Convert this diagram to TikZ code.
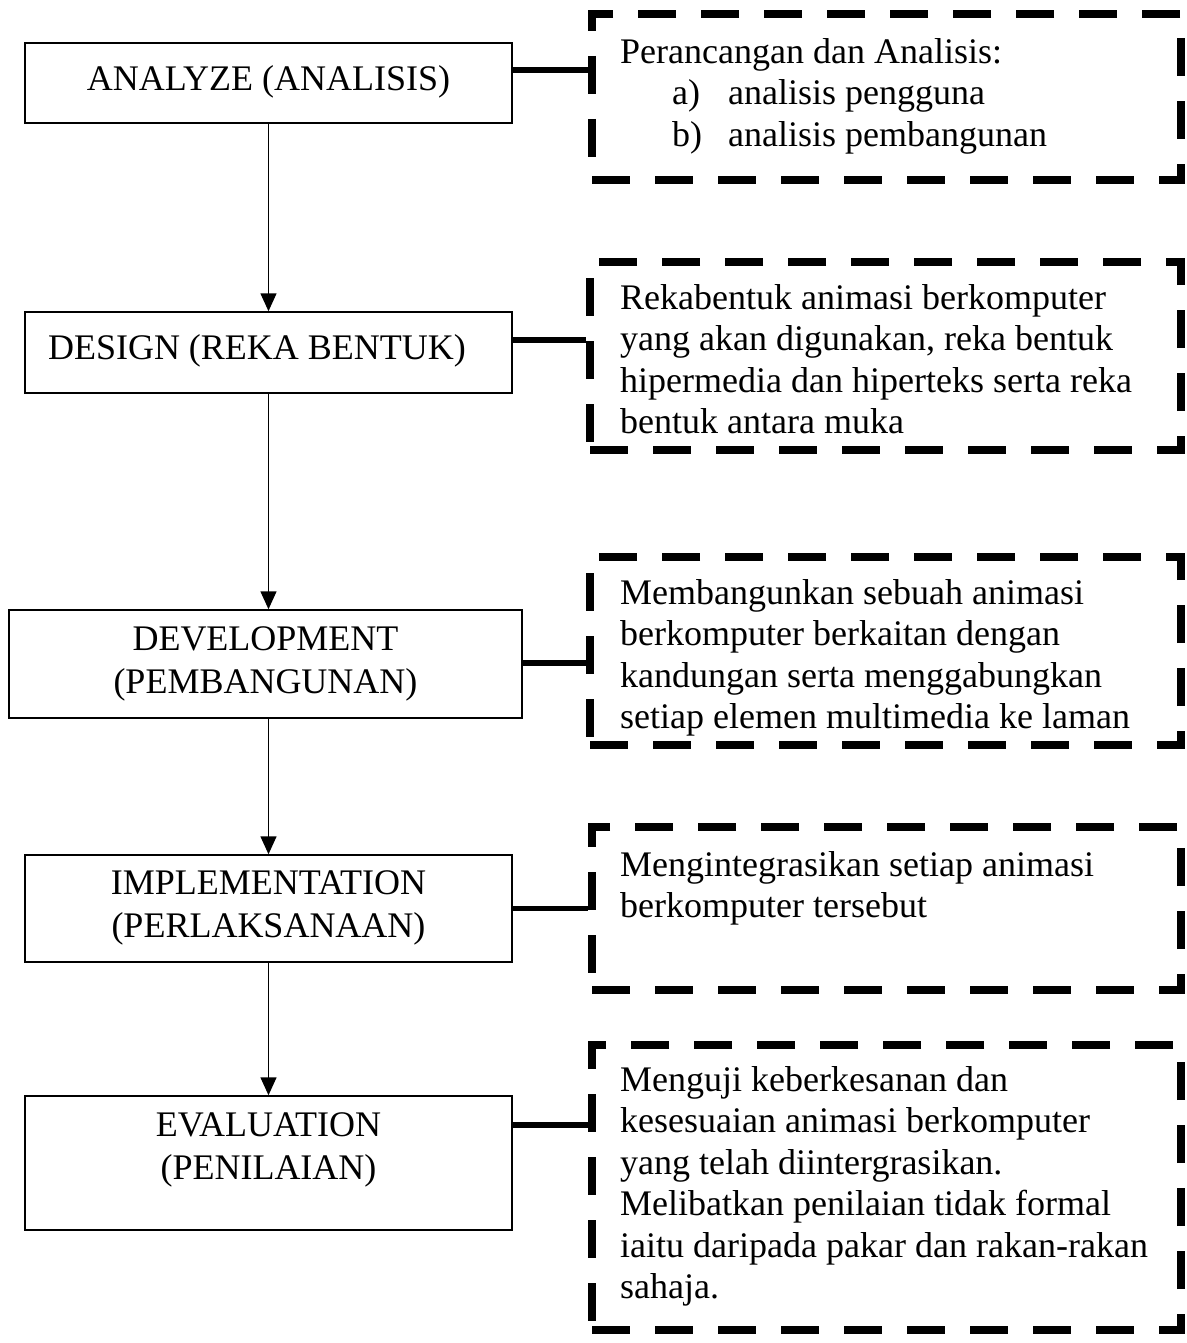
\documentclass[tikz,border=0pt]{standalone}
\usepackage{fontspec}
\setmainfont{Liberation Serif}
\usetikzlibrary{arrows.meta}
\begin{document}
\begin{tikzpicture}[x=1pt,y=-1pt,
 stage/.style={draw=black, line width=1.5pt, inner sep=0pt},
 note/.style={draw=black, line width=8.5pt, dash pattern=on 38pt off 25pt, inner sep=0pt},
 lbl/.style={font=\fontsize{36}{42.5}\selectfont, align=center, inner sep=0pt},
 txt/.style={font=\fontsize{36}{41.5}\selectfont, align=left, inner sep=0pt, anchor=north west},
 flow/.style={line width=1.5pt, -{Triangle[width=16pt,length=18pt]}},
 conn/.style={line width=5.5pt}]
\fill[white] (0,0) rectangle (1186,1343);
\useasboundingbox (0,0) rectangle (1186,1343);
% left stage boxes
\node[stage, minimum width=487pt, minimum height=80pt]  (a1) at (268.5,83) {};
\node[stage, minimum width=487pt, minimum height=81pt]  (a2) at (268.5,352.5) {};
\node[stage, minimum width=513pt, minimum height=108pt] (a3) at (265.5,664) {};
\node[stage, minimum width=487pt, minimum height=107pt] (a4) at (268.5,908.5) {};
\node[stage, minimum width=487pt, minimum height=134pt] (a5) at (268.5,1163) {};
\node[lbl] (t1) at (268.5,82) {ANALYZE (ANALISIS)};
\node[lbl] (t2) at (257,351) {DESIGN (REKA BENTUK)};
\node[lbl] (t3) at (265.5,664) {DEVELOPMENT\\(PEMBANGUNAN)};
\node[lbl] (t4) at (268.5,908) {IMPLEMENTATION\\(PERLAKSANAAN)};
\node[lbl] (t5) at (268.5,1150) {EVALUATION\\(PENILAIAN)};
% arrows
\draw[flow] (a1.south) -- (a2.north);
\draw[flow] (a2.south) -- (a2.south |- a3.north);
\draw[flow] (a2.south |- a3.south) -- (a2.south |- a4.north);
\draw[flow] (a4.south) -- (a5.north);
% dashed note boxes
\node[note, minimum width=589pt, minimum height=166pt] (r1) at (886.5,97) {};
\node[note, minimum width=591pt, minimum height=188pt] (r2) at (885.5,356) {};
\node[note, minimum width=591pt, minimum height=188pt] (r3) at (885.5,651) {};
\node[note, minimum width=589pt, minimum height=163pt] (r4) at (886.5,908.5) {};
\node[note, minimum width=589pt, minimum height=285pt] (r5) at (886.5,1187.5) {};
% note texts
\node[txt] (n1) at (620,38) {Perancangan dan Analisis:\\
\hspace*{52pt}\makebox[56pt][l]{a)}analisis pengguna\\
\hspace*{52pt}\makebox[56pt][l]{b)}analisis pembangunan};
\node[txt] (n2) at (620,284) {Rekabentuk animasi berkomputer\\yang akan digunakan, reka bentuk\\hipermedia dan hiperteks serta reka\\bentuk antara muka};
\node[txt] (n3) at (620,579) {Membangunkan sebuah animasi\\berkomputer berkaitan dengan\\kandungan serta menggabungkan\\setiap elemen multimedia ke laman};
\node[txt] (n4) at (620,851) {Mengintegrasikan setiap animasi\\berkomputer tersebut};
\node[txt] (n5) at (620,1066) {Menguji keberkesanan dan\\kesesuaian animasi berkomputer\\yang telah diintergrasikan.\\Melibatkan penilaian tidak formal\\iaitu daripada pakar dan rakan-rakan\\sahaja.};
% connectors
\coordinate (c1) at ([yshift=13pt]a1.east);
\coordinate (c2) at ([yshift=12.5pt]a2.east);
\coordinate (c3) at ([yshift=1pt]a3.east);
\coordinate (c4) at (a4.east);
\coordinate (c5) at ([yshift=38pt]a5.east);
\draw[conn] (c1) -- (c1 -| r1.west);
\draw[conn] (c2) -- (c2 -| r2.west);
\draw[conn] (c3) -- (c3 -| r3.west);
\draw[conn] (c4) -- (c4 -| r4.west);
\draw[conn] (c5) -- (c5 -| r5.west);
\end{tikzpicture}
\end{document}
